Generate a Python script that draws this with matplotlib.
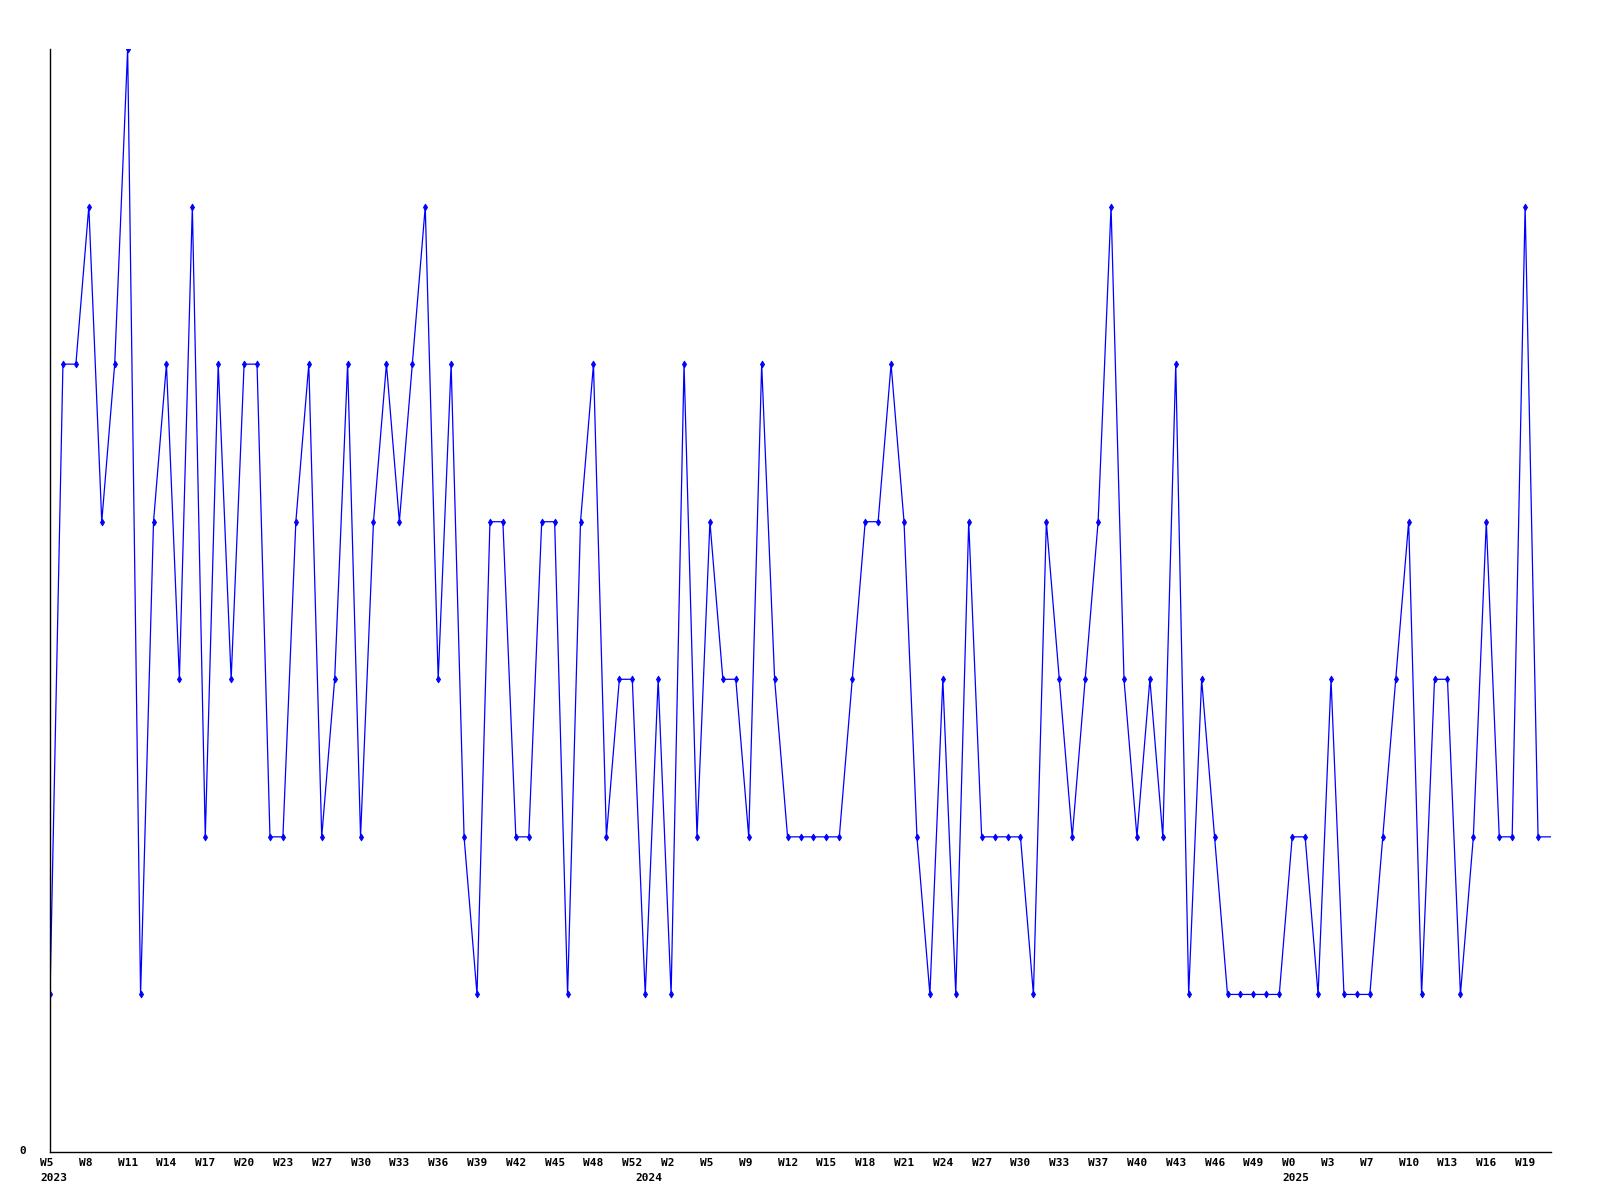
import numpy as np
import matplotlib.pyplot as plt
import matplotlib.transforms as mtransforms

# weekly values, one per week starting 2023 W5 (last one runs off the right edge)
values = [1, 5, 5, 6, 4, 5, 7, 1, 4, 5, 3, 6, 2, 5, 3, 5, 5, 2, 2, 4,
          5, 2, 3, 5, 2, 4, 5, 4, 5, 6, 3, 5, 2, 1, 4, 4, 2, 2, 4, 4,
          1, 4, 5, 2, 3, 3, 1, 3, 1, 5, 2, 4, 3, 3, 2, 5, 3, 2, 2, 2,
          2, 2, 3, 4, 4, 5, 4, 2, 1, 3, 1, 4, 2, 2, 2, 2, 1, 4, 3, 2,
          3, 4, 6, 3, 2, 3, 2, 5, 1, 3, 2, 1, 1, 1, 1, 1, 2, 2, 1, 3,
          1, 1, 1, 2, 3, 4, 1, 3, 3, 1, 2, 4, 2, 2, 6, 2, 2]

week_labels = ["W5", "W8", "W11", "W14", "W17", "W20", "W23", "W27", "W30",
               "W33", "W36", "W39", "W42", "W45", "W48", "W52", "W2", "W5",
               "W9", "W12", "W15", "W18", "W21", "W24", "W27", "W30", "W33",
               "W37", "W40", "W43", "W46", "W49", "W0", "W3", "W7", "W10",
               "W13", "W16", "W19"]
label_step = 3
years = ["2023", "2024", "2025"]
year_index = [0, 46, 96]

x = np.arange(len(values))

fig = plt.figure(figsize=(16, 12), dpi=100)
ax = fig.add_axes([50 / 1600, 48 / 1200, 1501 / 1600, 1103 / 1200])

ax.plot(x, values, color="#0000ff", lw=0.9, marker="d", ms=3.5, mew=0.6,
        markevery=slice(0, len(values) - 1))

ax.set_xlim(0, len(values) - 1)
ax.set_ylim(0, 7)
ax.spines["top"].set_visible(False)
ax.spines["right"].set_visible(False)
ax.spines["left"].set_linewidth(1.0)
ax.spines["bottom"].set_linewidth(1.0)
ax.set_xticks([])
ax.set_yticks([])

font = dict(family="DejaVu Sans Mono", weight="bold", size=8)
blend = mtransforms.blended_transform_factory(ax.transData, ax.transAxes)

def shifted(dx, dy):
    return blend + mtransforms.ScaledTranslation(dx / 100, dy / 100, fig.dpi_scale_trans)

for i, lab in enumerate(week_labels):
    ax.text(i * label_step, 0, lab, transform=shifted(-10, -11),
            ha="left", va="center", **font)

for i, yr in zip(year_index, years):
    ax.text(i, 0, yr, transform=shifted(-10, -26),
            ha="left", va="center", **font)

ax.text(0, 0, "0", transform=shifted(-24, 1), ha="right", va="center", **font)

fig.savefig("out.png", dpi=100)
